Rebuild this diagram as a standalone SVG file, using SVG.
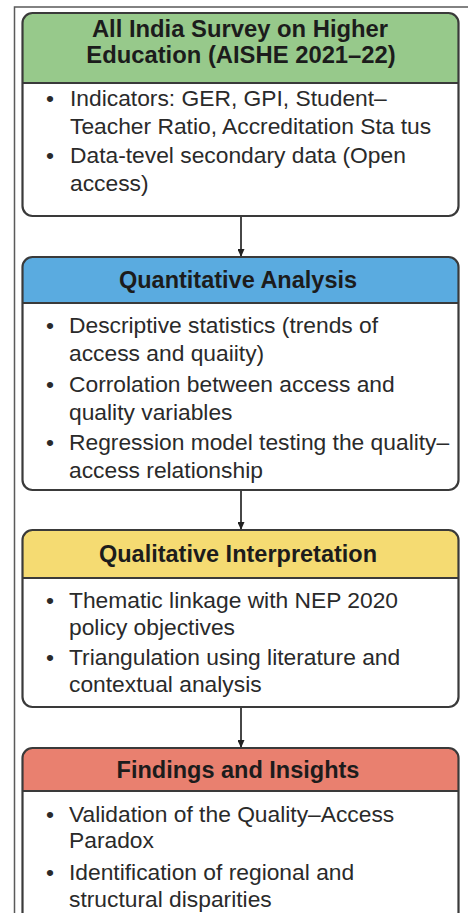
<svg xmlns="http://www.w3.org/2000/svg" width="468" height="913" viewBox="0 0 468 913">
  <style>
    .frame { fill: none; stroke: #5a5a5a; stroke-width: 1.5; }
    .fillw { fill: #ffffff; }
    .box { fill: none; stroke: #3a3a3a; stroke-width: 2.2; }
    .sep { stroke: #3a3a3a; stroke-width: 2; }
    .head { font-family: "Liberation Sans", Arial, sans-serif; font-weight: bold; font-size: 23.5px; fill: #1c1c1c; text-anchor: middle; }
    .title { font-size: 23.8px; }
    .body { font-family: "Liberation Sans", Arial, sans-serif; font-size: 22.8px; fill: #2a2a2a; }
    .link { stroke: #333333; stroke-width: 1.8; fill: none; marker-end: url(#arrow); }
  </style>
  <defs>
    <marker id="arrow" markerWidth="8" markerHeight="7" refX="8" refY="3.5" orient="auto" markerUnits="userSpaceOnUse">
      <path d="M0,0 L8,3.5 L0,7 Z" fill="#222222"/>
    </marker>
  </defs>

  <rect width="468" height="913" fill="#ffffff"/>
  <!-- page frame -->
  <path class="frame" d="M14.5,913 V7 H468"/>

  <!-- connectors -->
  <g id="connectors">
    <line class="link" x1="241" y1="216" x2="241" y2="257"/>
    <line class="link" x1="241" y1="490" x2="241" y2="530"/>
    <line class="link" x1="241" y1="707" x2="241" y2="748"/>
  </g>

  <!-- source data -->
  <g id="node-aishe">
    <rect class="fillw" x="22.5" y="13" width="436" height="203" rx="10"/>
    <path d="M32.5,13 H448.5 A10,10 0 0 1 458.5,23 V83 H22.5 V23 A10,10 0 0 1 32.5,13 Z" fill="#97c98b"/>
    <rect class="box" x="22.5" y="13" width="436" height="203" rx="10"/>
    <line class="sep" x1="22.5" y1="83" x2="458.5" y2="83"/>
    <text class="head title" x="240" y="37">All India Survey on Higher</text>
    <text class="head title" x="241" y="63">Education (AISHE 2021–22)</text>
    <text class="body" x="46" y="106">•</text>
    <text class="body" x="70" y="106">Indicators: GER, GPI, Student–</text>
    <text class="body" x="70" y="134">Teacher Ratio, Accreditation Sta tus</text>
    <text class="body" x="46" y="163">•</text>
    <text class="body" x="70" y="163">Data-tevel secondary data (Open</text>
    <text class="body" x="70" y="191">access)</text>
  </g>

  <!-- quantitative stage -->
  <g id="node-quantitative">
    <rect class="fillw" x="22.5" y="257" width="436" height="233" rx="10"/>
    <path d="M32.5,257 H448.5 A10,10 0 0 1 458.5,267 V303 H22.5 V267 A10,10 0 0 1 32.5,257 Z" fill="#5aabe0"/>
    <rect class="box" x="22.5" y="257" width="436" height="233" rx="10"/>
    <line class="sep" x1="22.5" y1="303" x2="458.5" y2="303"/>
    <text class="head" x="238" y="288">Quantitative Analysis</text>
    <text class="body" x="46" y="333">•</text>
    <text class="body" x="69" y="333">Descriptive statistics (trends of</text>
    <text class="body" x="69" y="361">access and quaiity)</text>
    <text class="body" x="46" y="392">•</text>
    <text class="body" x="69" y="392">Corrolation between access and</text>
    <text class="body" x="69" y="420">quality variables</text>
    <text class="body" x="46" y="450">•</text>
    <text class="body" x="69" y="450">Regression model testing the quality–</text>
    <text class="body" x="69" y="478">access relationship</text>
  </g>

  <!-- qualitative stage -->
  <g id="node-qualitative">
    <rect class="fillw" x="22.5" y="530" width="436" height="177" rx="10"/>
    <path d="M32.5,530 H448.5 A10,10 0 0 1 458.5,540 V578 H22.5 V540 A10,10 0 0 1 32.5,530 Z" fill="#f5db72"/>
    <rect class="box" x="22.5" y="530" width="436" height="177" rx="10"/>
    <line class="sep" x1="22.5" y1="578" x2="458.5" y2="578"/>
    <text class="head" x="238" y="562">Qualitative Interpretation</text>
    <text class="body" x="46" y="608">•</text>
    <text class="body" x="69" y="608">Thematic linkage with NEP 2020</text>
    <text class="body" x="69" y="635">policy objectives</text>
    <text class="body" x="46" y="665">•</text>
    <text class="body" x="69" y="665">Triangulation using literature and</text>
    <text class="body" x="69" y="692">contextual analysis</text>
  </g>

  <!-- findings stage -->
  <g id="node-findings">
    <rect class="fillw" x="22.5" y="748" width="436" height="200" rx="10"/>
    <path d="M32.5,748 H448.5 A10,10 0 0 1 458.5,758 V791 H22.5 V758 A10,10 0 0 1 32.5,748 Z" fill="#e9806f"/>
    <rect class="box" x="22.5" y="748" width="436" height="200" rx="10"/>
    <line class="sep" x1="22.5" y1="791" x2="458.5" y2="791"/>
    <text class="head" x="238" y="778">Findings and Insights</text>
    <text class="body" x="46" y="822">•</text>
    <text class="body" x="69" y="822">Validation of the Quality–Access</text>
    <text class="body" x="69" y="848">Paradox</text>
    <text class="body" x="46" y="880">•</text>
    <text class="body" x="69" y="880">Identification of regional and</text>
    <text class="body" x="69" y="907">structural disparities</text>
  </g>
</svg>
